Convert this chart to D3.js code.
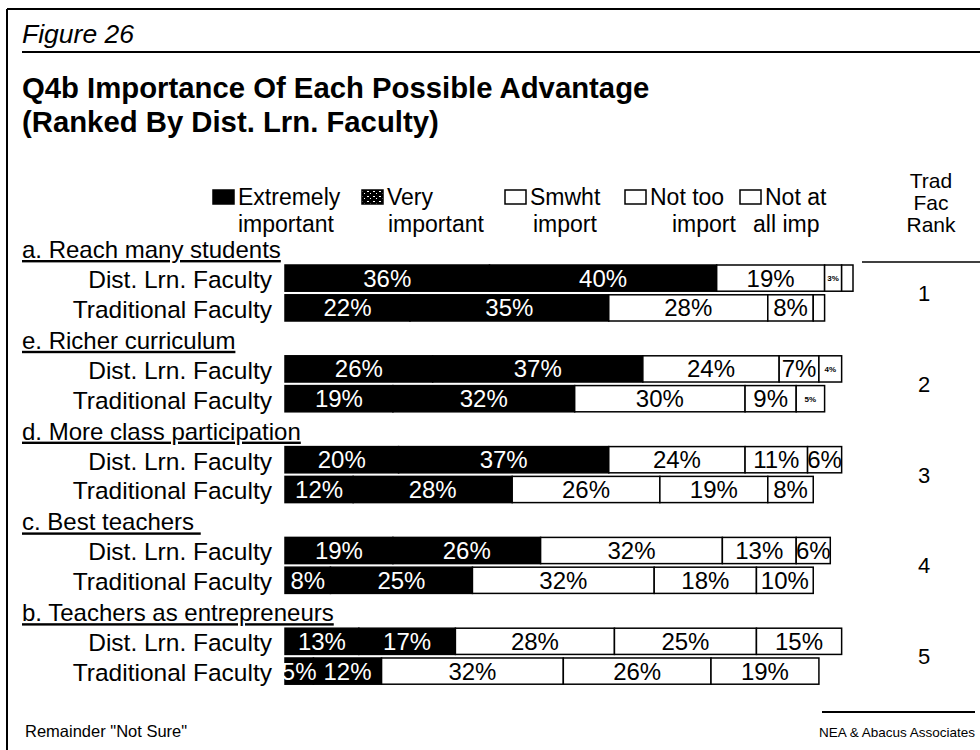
<!DOCTYPE html>
<html>
<head>
    <meta charset="utf-8">
    <title>Figure 26 - Q4b Importance Of Each Possible Advantage</title>
    <script src="https://d3js.org/d3.v7.min.js"></script>
    <style>
        body { margin: 0; background: #fff; }
        text { font-family: "Liberation Sans", Arial, sans-serif; }
    </style>
</head>
<body>
<svg id="chart" width="980" height="750"></svg>
<script type="text/javascript">

    var categories = ["a. Reach many students", "e. Richer curriculum", "d. More class participation",
        "c. Best teachers ", "b. Teachers as entrepreneurs"];
    var groups = ["Dist. Lrn. Faculty", "Traditional Faculty"];
    var levels = ["Extremely important", "Very important", "Smwht import", "Not too import", "Not at all imp"];
    var legendLine1 = ["Extremely", "Very", "Smwht", "Not too", "Not at"];
    var legendLine2 = ["important", "important", "import", "import", "all imp"];

    // percent per level, one row per category
    var distValues = [
        [36, 40, 19, 3, 2],
        [26, 37, 24, 7, 4],
        [20, 37, 24, 11, 6],
        [19, 26, 32, 13, 6],
        [13, 17, 28, 25, 15]];
    var tradValues = [
        [22, 35, 28, 8, 2],
        [19, 32, 30, 9, 5],
        [12, 28, 26, 19, 8],
        [8, 25, 32, 18, 10],
        [5, 12, 32, 26, 19]];
    var tradRanks = [1, 2, 3, 4, 5];

    var svg = d3.select("#chart");

    // halftone look for the "very" swatch only
    var defs = svg.append("defs");
    var pv = defs.append("pattern").attr("id", "veryPat").attr("patternUnits", "userSpaceOnUse")
            .attr("width", 6).attr("height", 5);
    pv.append("rect").attr("width", 6).attr("height", 5).attr("fill", "#000");
    pv.append("rect").attr("x", 1).attr("y", 1).attr("width", 2).attr("height", 1).attr("fill", "#fff");
    pv.append("rect").attr("x", 4).attr("y", 3).attr("width", 1).attr("height", 1).attr("fill", "#fff");

    var color = d3.scaleOrdinal().domain(levels)
            .range(["#000", "#000", "#fff", "#fff", "#fff"]);
    var swatch = d3.scaleOrdinal().domain(levels)
            .range(["#000", "url(#veryPat)", "#fff", "#fff", "#fff"]);
    var textColor = d3.scaleOrdinal().domain(levels)
            .range(["#fff", "#fff", "#000", "#000", "#000"]);

    var x = d3.scaleLinear().domain([0, 100]).range([285, 853]);
    var y = d3.scaleBand().domain(categories).range([240, 240 + 5 * 90.8]);
    var row = d3.scaleBand().domain(groups).range([25, 81]).paddingInner(0.12);

    // frame
    svg.append("line").attr("x1", 7).attr("y1", 9).attr("x2", 980).attr("y2", 9)
            .attr("stroke", "#000").attr("stroke-width", 2);
    svg.append("line").attr("x1", 7).attr("y1", 9).attr("x2", 7).attr("y2", 750)
            .attr("stroke", "#000").attr("stroke-width", 2);

    svg.append("text").attr("x", 22).attr("y", 43).attr("font-size", 26.5).attr("font-style", "italic")
            .text("Figure 26");
    svg.append("line").attr("x1", 22).attr("y1", 52).attr("x2", 980).attr("y2", 52)
            .attr("stroke", "#000").attr("stroke-width", 2);

    svg.append("text").attr("x", 22).attr("y", 98).attr("font-size", 29.3).attr("font-weight", "bold")
            .text("Q4b Importance Of Each Possible Advantage");
    svg.append("text").attr("x", 22).attr("y", 132).attr("font-size", 29.3).attr("font-weight", "bold")
            .text("(Ranked By Dist. Lrn. Faculty)");

    // legend
    var legendX = [213, 362, 505, 625, 740];
    var line2X = [238, 388, 533, 672, 753];
    var legend = svg.append("g").attr("class", "legend");
    levels.forEach(function (lv, i) {
        legend.append("rect")
                .attr("x", legendX[i]).attr("y", 190).attr("width", 21).attr("height", 14)
                .attr("fill", swatch(lv)).attr("stroke", "#000").attr("stroke-width", 1.5);
        legend.append("text").attr("x", legendX[i] + 25).attr("y", 205).attr("font-size", 23)
                .text(legendLine1[i]);
        legend.append("text").attr("x", line2X[i]).attr("y", 232).attr("font-size", 23)
                .text(legendLine2[i]);
    });

    // rank header
    ["Trad", "Fac", "Rank"].forEach(function (t, i) {
        svg.append("text").attr("x", 931).attr("y", 188 + i * 22).attr("font-size", 21)
                .attr("text-anchor", "middle").text(t);
    });
    svg.append("line").attr("x1", 862).attr("y1", 262).attr("x2", 980).attr("y2", 262)
            .attr("stroke", "#000").attr("stroke-width", 1.5);

    // groups
    categories.forEach(function (cat, ci) {
        var g = svg.append("g").attr("transform", "translate(0," + y(cat) + ")");

        g.append("text").attr("x", 22).attr("y", 18).attr("font-size", 24)
                .style("text-decoration", "underline").style("white-space", "pre")
                .text(cat);

        [distValues[ci], tradValues[ci]].forEach(function (vals, gi) {
            var grp = groups[gi];
            var ends = d3.cumsum(vals);
            var segs = vals.map(function (v, k) {
                return {level: levels[k], k: k, v: v, x0: ends[k] - v, x1: ends[k]};
            });
            var by = row(grp), bh = row.bandwidth();

            g.append("text").attr("x", 272).attr("y", by + bh / 2 + 10)
                    .attr("font-size", 24.5).attr("text-anchor", "end").text(grp);

            g.selectAll(".seg" + gi).data(segs).enter().append("rect")
                    .attr("class", "seg" + gi)
                    .attr("x", function (d) { return x(d.x0); })
                    .attr("y", by)
                    .attr("width", function (d) { return x(d.x1) - x(d.x0); })
                    .attr("height", bh)
                    .attr("fill", function (d) { return color(d.level); })
                    .attr("stroke", "#000").attr("stroke-width", 1.5);

            g.selectAll(".lab" + gi).data(segs.filter(function (d) { return d.v > 2; }))
                    .enter().append("text")
                    .attr("class", "lab" + gi)
                    .attr("x", function (d) { return (x(d.x0) + x(d.x1)) / 2; })
                    .attr("y", function (d) {
                        return d.k >= 3 && d.v <= 5 ? by + bh / 2 + 3 : by + bh / 2 + 8.5;
                    })
                    .attr("text-anchor", "middle")
                    .attr("font-size", function (d) { return d.k >= 3 && d.v <= 5 ? 8 : 24; })
                    .attr("font-weight", function (d) { return d.k >= 3 && d.v <= 5 ? "bold" : null; })
                    .attr("fill", function (d) { return textColor(d.level); })
                    .text(function (d) { return d.v + "%"; });
        });

        g.append("text").attr("x", 924).attr("y", (row(groups[0]) + row(groups[1]) + row.bandwidth()) / 2 + 8)
                .attr("font-size", 22).attr("text-anchor", "middle").text(tradRanks[ci]);
    });

    // footer
    svg.append("text").attr("x", 25).attr("y", 737).attr("font-size", 16.5)
            .text("Remainder \"Not Sure\"");
    svg.append("line").attr("x1", 822).attr("y1", 712).attr("x2", 975).attr("y2", 712)
            .attr("stroke", "#000").attr("stroke-width", 2);
    svg.append("text").attr("x", 975).attr("y", 737).attr("font-size", 13.5)
            .attr("text-anchor", "end").text("NEA & Abacus Associates");
</script>
</body>
</html>
